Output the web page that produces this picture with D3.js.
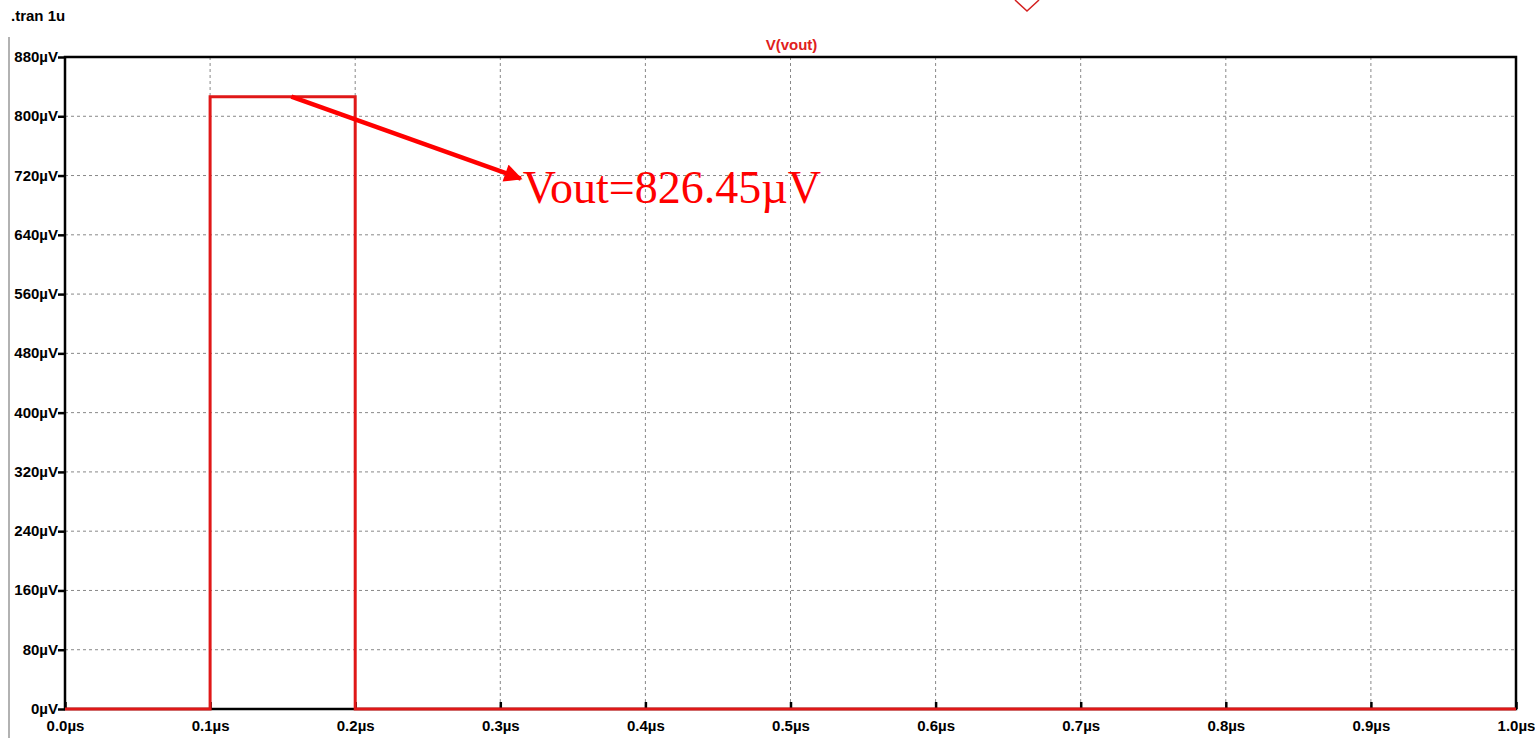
<!DOCTYPE html>
<html>
<head>
<meta charset="utf-8">
<script src="https://cdn.jsdelivr.net/npm/d3@7"></script>
<style>
  body { margin: 0; background: #fff; }
  svg text { font-family: "Liberation Sans", Arial, sans-serif; }
</style>
</head>
<body>
<div id="chart"></div>
<script>
// trace V(vout): time in µs, voltage in µV
const timeUs = [0.0, 0.1, 0.1, 0.2, 0.2, 1.0];
const voutUv = [0, 0, 826.45, 826.45, 0, 0];
const xTicks = [0.0, 0.1, 0.2, 0.3, 0.4, 0.5, 0.6, 0.7, 0.8, 0.9, 1.0];
const yTicks = [0, 80, 160, 240, 320, 400, 480, 560, 640, 720, 800, 880];
const traceName = "V(vout)";
const directive = ".tran 1u";
const noteText = "Vout=826.45µV";
const noteFrom = [0.156, 826.45];   // arrow tail (µs, µV)
const noteTo = [0.31, 720];         // arrow head (µs, µV)

const W = 1535, H = 738;
const margin = { left: 65, right: 19, top: 57, bottom: 29 };

const svg = d3.select('#chart').append('svg')
    .attr('width', W)
    .attr('height', H);

const x = d3.scaleLinear().domain([0, 1]).range([margin.left, W - margin.right]);
const y = d3.scaleLinear().domain([0, 880]).range([H - margin.bottom, margin.top]);

// left edge line of the window
svg.append('line')
    .attr('x1', 9).attr('x2', 9).attr('y1', 37).attr('y2', H)
    .attr('stroke', '#999').attr('stroke-width', 1.5);

svg.append('text')
    .attr('x', 11).attr('y', 21)
    .style('font-size', '15px').style('font-weight', 'bold')
    .text(directive);

// leftover marker at top
svg.append('path')
    .attr('d', 'M1015,0 L1027,11 L1039,0')
    .attr('fill', 'none').attr('stroke', '#d42020').attr('stroke-width', 1.5);

// grid
svg.append('g')
    .selectAll('line')
    .data(xTicks.slice(1, -1))
    .join('line')
    .attr('x1', d => x(d)).attr('x2', d => x(d))
    .attr('y1', y(880)).attr('y2', y(0))
    .attr('stroke', '#888').attr('stroke-dasharray', '3,3').attr('stroke-width', 1);

svg.append('g')
    .selectAll('line')
    .data(yTicks.slice(1, -1))
    .join('line')
    .attr('x1', x(0)).attr('x2', x(1))
    .attr('y1', d => y(d)).attr('y2', d => y(d))
    .attr('stroke', '#888').attr('stroke-dasharray', '3,3').attr('stroke-width', 1);

// axes
const yAxis = svg.append('g')
    .attr('transform', 'translate(' + x(0) + ',0)')
    .call(d3.axisLeft(y).tickValues(yTicks).tickSize(6).tickFormat(d => d + 'µV'));
const xAxis = svg.append('g')
    .attr('transform', 'translate(0,' + y(0) + ')')
    .call(d3.axisBottom(x).tickValues(xTicks).tickSize(6).tickFormat(d => d.toFixed(1) + 'µs'));

[yAxis, xAxis].forEach(a => {
    a.select('.domain').remove();
    a.selectAll('line').attr('stroke', '#000').attr('stroke-width', 2.5);
    a.selectAll('text')
        .style('font-size', '15px').style('font-weight', 'bold')
        .style('font-family', '"Liberation Sans", Arial, sans-serif')
        .attr('fill', '#000');
});
yAxis.selectAll('line').attr('x2', -7);
yAxis.selectAll('text').attr('x', -7).attr('dy', '0.3em');
xAxis.selectAll('text').attr('y', 11);
xAxis.selectAll('line').attr('y1', -7).attr('y2', 0);

// frame
svg.append('rect')
    .attr('x', x(0)).attr('y', y(880))
    .attr('width', x(1) - x(0)).attr('height', y(0) - y(880))
    .attr('fill', 'none').attr('stroke', '#000').attr('stroke-width', 2.5);

svg.append('text')
    .attr('x', (x(0) + x(1)) / 2 + 1).attr('y', 50)
    .attr('text-anchor', 'middle')
    .style('font-size', '15px').style('font-weight', 'bold')
    .attr('fill', '#e02020')
    .text(traceName);

// trace
const line = d3.line().x(d => x(d[0])).y(d => y(d[1]));
svg.append('path')
    .datum(timeUs.map((t, i) => [t, voutUv[i]]))
    .attr('d', line)
    .attr('fill', 'none')
    .attr('stroke', '#e01818')
    .attr('stroke-width', 3);

// annotation arrow
svg.append('defs').append('marker')
    .attr('id', 'head')
    .attr('viewBox', '0 0 10 10')
    .attr('refX', 9).attr('refY', 5)
    .attr('markerWidth', 5).attr('markerHeight', 4)
    .attr('markerUnits', 'strokeWidth')
    .attr('orient', 'auto')
    .append('path')
    .attr('d', 'M0,0 L10,5 L0,10 Z')
    .attr('fill', '#f00');

svg.append('line')
    .attr('x1', x(noteFrom[0])).attr('y1', y(noteFrom[1]))
    .attr('x2', x(noteTo[0]) + 6).attr('y2', y(noteTo[1]) + 3)
    .attr('stroke', '#f00').attr('stroke-width', 4.5)
    .attr('marker-end', 'url(#head)');

svg.append('text')
    .attr('x', x(noteTo[0]) + 8).attr('y', 203)
    .style('font-family', '"Liberation Serif", "Times New Roman", serif')
    .style('font-size', '46px')
    .attr('fill', '#f00')
    .text(noteText);
</script>
</body>
</html>
